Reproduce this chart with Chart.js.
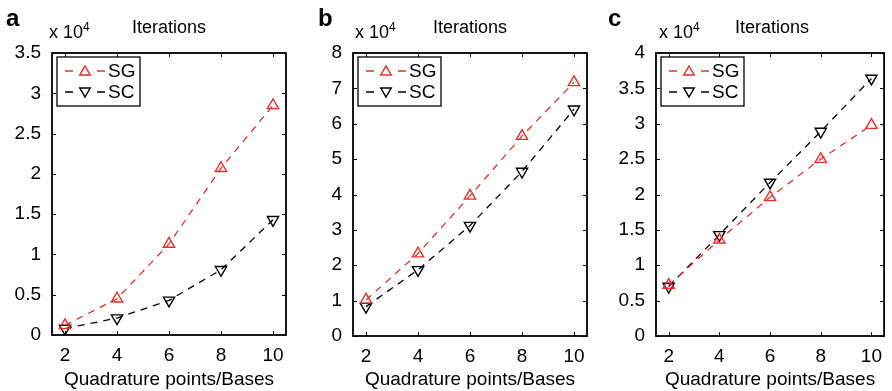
<!DOCTYPE html>
<html>
<head>
<meta charset="utf-8">
<script src="https://cdn.jsdelivr.net/npm/chart.js@4"></script>
<style>
  body { margin: 0; background: #fff; }
  #wrap { position: relative; width: 892px; height: 391px; font-family: "Liberation Sans", Arial, sans-serif; color: #000; }
  canvas { position: absolute; top: 0; }
  .lbl { position: absolute; line-height: 1; white-space: nowrap; }
  .letter { font-size: 24px; font-weight: bold; }
  .mult, .ttl { font-size: 18px; }
  .mult span { font-size: 12px; position: relative; top: -7px; }
  .ttl { transform: translateX(-50%); }
</style>
</head>
<body>
<div id="wrap">
  <canvas id="chartA" width="297" height="391" style="left:0px"></canvas>
  <canvas id="chartB" width="297" height="391" style="left:300px"></canvas>
  <canvas id="chartC" width="292" height="391" style="left:600px"></canvas>

  <div class="lbl letter" style="left:6px;top:6px">a</div>
  <div class="lbl letter" style="left:318px;top:6px">b</div>
  <div class="lbl letter" style="left:608px;top:6px">c</div>

  <div class="lbl mult" style="left:49px;top:23px">x 10<span>4</span></div>
  <div class="lbl mult" style="left:355px;top:23px">x 10<span>4</span></div>
  <div class="lbl mult" style="left:659px;top:23px">x 10<span>4</span></div>

  <div class="lbl ttl" style="left:169px;top:18px">Iterations</div>
  <div class="lbl ttl" style="left:470px;top:18px">Iterations</div>
  <div class="lbl ttl" style="left:772px;top:18px">Iterations</div>
</div>

<script>
// Quadrature points / bases on the x axis
const points = [2, 4, 6, 8, 10]

// Iterations (x 10^4)
const sgA = [0.12, 0.45, 1.13, 2.07, 2.85]
const scA = [0.08, 0.21, 0.43, 0.81, 1.43]

const sgB = [1.02, 2.33, 3.96, 5.65, 7.17]
const scB = [0.83, 1.87, 3.12, 4.65, 6.41]

const sgC = [0.72, 1.36, 1.96, 2.50, 2.98]
const scC = [0.70, 1.43, 2.17, 2.89, 3.64]

// y axis ranges / steps
const yMaxA = 3.5, yStepA = 0.5
const yMaxB = 8, yStepB = 1
const yMaxC = 4, yStepC = 0.5

const RED = '#e5302b'
const BLACK = '#000'
const FONT = '"Liberation Sans", Arial, sans-serif'

function triangle(ctx, x, y, r, down) {
  const s = down ? -1 : 1
  ctx.beginPath()
  ctx.moveTo(x, y - s * r)
  ctx.lineTo(x + r * 0.866, y + s * r * 0.5)
  ctx.lineTo(x - r * 0.866, y + s * r * 0.5)
  ctx.closePath()
  ctx.stroke()
}

// Box, inward tick marks and legend (matlab style)
const framePlugin = {
  id: 'frame',
  afterDraw(chart) {
    const { ctx, chartArea: a, scales: { x, y } } = chart
    ctx.save()
    ctx.strokeStyle = BLACK
    ctx.lineWidth = 1
    ctx.beginPath()
    x.ticks.forEach(t => {
      const px = Math.round(x.getPixelForValue(t.value)) + 0.5
      ctx.moveTo(px, a.bottom); ctx.lineTo(px, a.bottom - 4)
      ctx.moveTo(px, a.top); ctx.lineTo(px, a.top + 4)
    })
    y.ticks.forEach(t => {
      const py = Math.round(y.getPixelForValue(t.value)) + 0.5
      ctx.moveTo(a.left, py); ctx.lineTo(a.left + 4, py)
      ctx.moveTo(a.right, py); ctx.lineTo(a.right - 4, py)
    })
    ctx.stroke()
    ctx.lineWidth = 1.8
    ctx.strokeRect(a.left, a.top, a.right - a.left, a.bottom - a.top)

    // legend
    const lx = a.left + 5, ly = a.top + 4
    ctx.fillStyle = '#fff'
    ctx.fillRect(lx, ly, 83, 49)
    ctx.lineWidth = 1.3
    ctx.strokeStyle = BLACK
    ctx.strokeRect(lx, ly, 83, 49)
    chart.data.datasets.forEach((ds, i) => {
      const ry = ly + 14 + i * 21
      ctx.strokeStyle = ds.borderColor
      ctx.lineWidth = 1.3
      ctx.beginPath()
      ctx.moveTo(lx + 8, ry); ctx.lineTo(lx + 16, ry)
      ctx.moveTo(lx + 40, ry); ctx.lineTo(lx + 48, ry)
      ctx.stroke()
      ctx.lineWidth = 1.5
      triangle(ctx, lx + 28, ry + (i ? -1 : 1), 6, i === 1)
      ctx.fillStyle = BLACK
      ctx.font = '19px ' + FONT
      ctx.textBaseline = 'middle'
      ctx.fillText(ds.label, lx + 51, ry + 1)
    })
    ctx.restore()
  }
}

function makeChart(id, sg, sc, yMax, yStep, yWidth, rightPad, xHeight) {
  const ctx = document.getElementById(id).getContext('2d')
  return new Chart(ctx, {
    type: 'line',
    data: {
      datasets: [
        {
          label: 'SG',
          data: points.map((p, i) => ({ x: p, y: sg[i] })),
          borderColor: RED,
          borderWidth: 1.3,
          borderDash: [7, 6],
          pointStyle: 'triangle',
          pointRadius: 6.5,
          pointBorderWidth: 1.4,
          pointBorderColor: RED,
          pointBackgroundColor: 'rgba(0,0,0,0)'
        },
        {
          label: 'SC',
          data: points.map((p, i) => ({ x: p, y: sc[i] })),
          borderColor: BLACK,
          borderWidth: 1.3,
          borderDash: [7, 6],
          pointStyle: 'triangle',
          pointRotation: 180,
          pointRadius: 6.5,
          pointBorderWidth: 1.4,
          pointBorderColor: BLACK,
          pointBackgroundColor: 'rgba(0,0,0,0)'
        }
      ]
    },
    options: {
      responsive: false,
      animation: false,
      layout: { padding: { left: 0, right: rightPad, top: 53, bottom: 0 } },
      plugins: { legend: { display: false }, tooltip: { enabled: false } },
      scales: {
        x: {
          type: 'linear',
          min: 1.5,
          max: 10.5,
          afterBuildTicks: s => { s.ticks = points.map(v => ({ value: v })) },
          afterFit: s => { s.height = xHeight },
          grid: { display: false, drawTicks: false },
          border: { display: false },
          ticks: { color: BLACK, padding: 9, font: { family: FONT, size: 19 }, callback: v => String(v) },
          title: {
            display: true,
            text: 'Quadrature points/Bases',
            color: BLACK,
            padding: { top: 4, bottom: 0 },
            font: { family: FONT, size: 19 }
          }
        },
        y: {
          min: 0,
          max: yMax,
          afterFit: s => { s.width = yWidth },
          grid: { display: false, drawTicks: false },
          border: { display: false },
          ticks: { stepSize: yStep, color: BLACK, padding: 11, font: { family: FONT, size: 19 }, callback: v => String(v) }
        }
      }
    },
    plugins: [framePlugin]
  })
}

makeChart('chartA', sgA, scA, yMaxA, yStepA, 52, 11, 56)
makeChart('chartB', sgB, scB, yMaxB, yStepB, 53, 10, 55)
makeChart('chartC', sgC, scC, yMaxC, yStepC, 56, 5, 55)
</script>
</body>
</html>
